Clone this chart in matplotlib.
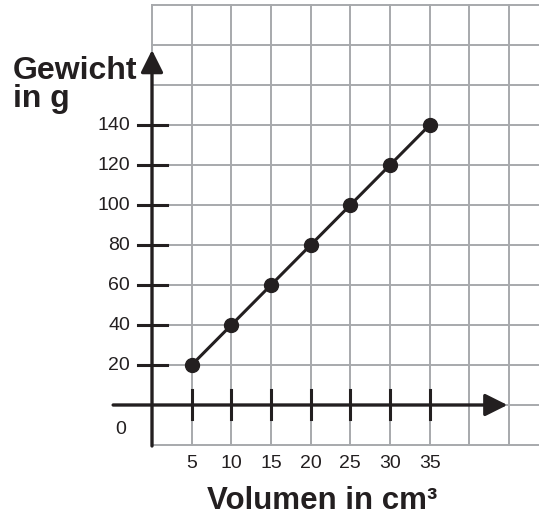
import matplotlib.pyplot as plt

volumen = [5, 10, 15, 20, 25, 30, 35]
gewicht = [20, 40, 60, 80, 100, 120, 140]
x_ticks = [5, 10, 15, 20, 25, 30, 35]
y_ticks = [20, 40, 60, 80, 100, 120, 140]

ink = '#231f20'
grid_col = '#a7a9ac'
plt.rcParams['font.family'] = ['Liberation Sans', 'DejaVu Sans']

fig = plt.figure(figsize=(5.39, 5.18), dpi=100)
ax = fig.add_axes([0, 0, 1, 1])
ax.set_xlim(-19.16, 48.78)
ax.set_ylim(-56.5, 202.5)
ax.axis('off')

# grid paper
for gx in range(0, 55, 5):
    ax.plot([gx, gx], [-20, 200], color=grid_col, lw=1.4, zorder=1)
for gy in range(-20, 201, 20):
    ax.plot([0, 60], [gy, gy], color=grid_col, lw=1.4, zorder=1)

# axes with arrows
ax.annotate('', xy=(44.8, 0), xytext=(-4.9, 0),
            arrowprops=dict(arrowstyle='-|>', lw=2.4, color=ink,
                            mutation_scale=34, shrinkA=0, shrinkB=0), zorder=3)
ax.annotate('', xy=(0, 177.5), xytext=(0, -20.5),
            arrowprops=dict(arrowstyle='-|>', lw=2.4, color=ink,
                            mutation_scale=34, shrinkA=0, shrinkB=0), zorder=3)

for t in y_ticks:
    ax.plot([-1.8, 1.9], [t, t], color=ink, lw=2.2, zorder=3)
    ax.text(-2.75, t, str(t), ha='right', va='center', fontsize=14, color=ink)
for t in x_ticks:
    ax.plot([t, t], [7.5, -7], color=ink, lw=2.2, zorder=3)
    ax.text(t, -29, str(t), ha='center', va='center', fontsize=14, color=ink)
ax.text(-3.2, -12, '0', ha='right', va='center', fontsize=14, color=ink)

# data
ax.plot(volumen, gewicht, color=ink, lw=2.2, marker='o', markersize=10, zorder=4)

ax.text(-17.5, 160, 'Gewicht\nin g', ha='left', va='center', fontsize=23,
        fontweight='bold', color=ink, linespacing=0.9)
ax.text(21.5, -48, 'Volumen in cm³', ha='center', va='center', fontsize=22.5,
        fontweight='bold', color=ink)

fig.savefig('out.png', dpi=100)
